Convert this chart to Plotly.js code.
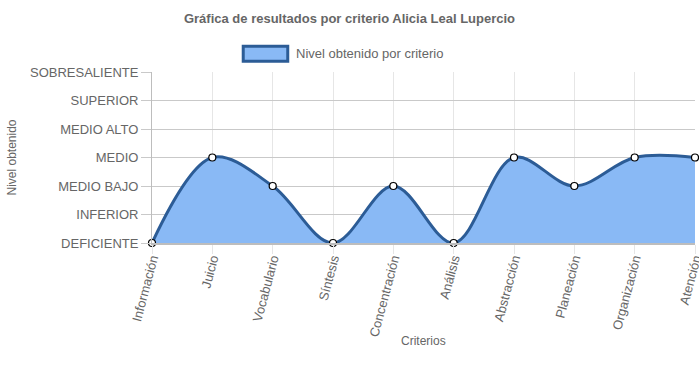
<!DOCTYPE html>
<html>
<head>
<meta charset="utf-8">
<script src="https://cdn.plot.ly/plotly-3.0.1.min.js"></script>
<style>html,body{margin:0;padding:0;background:#fff;}#chart{width:699px;height:382px;}</style>
</head>
<body>
<div id="chart"></div>
<script>
const criterios = ["Información","Juicio","Vocabulario","Síntesis","Concentración","Análisis","Abstracción","Planeación","Organización","Atención"];
const niveles = [0,3,2,0,2,0,3,2,3,3];
const nivelLabels = ["DEFICIENTE","INFERIOR","MEDIO BAJO","MEDIO","MEDIO ALTO","SUPERIOR","SOBRESALIENTE"];
const serieNombre = "Nivel obtenido por criterio";
const xTitulo = "Criterios";

const font = "Liberation Sans, Arial, sans-serif";
const trace = {
  x: criterios,
  y: niveles,
  type: "scatter",
  mode: "lines+markers",
  name: serieNombre,
  fill: "tozeroy",
  fillcolor: "rgb(137,185,245)",
  line: {shape: "spline", smoothing: 1, color: "rgb(44,92,150)", width: 3},
  marker: {size: 7, color: "#fff", line: {color: "#000", width: 1.2}},
  cliponaxis: false,
  showlegend: false
};
const layout = {
  width: 699, height: 382,
  margin: {l: 152, r: 4, t: 72, b: 139},
  paper_bgcolor: "#fff", plot_bgcolor: "#fff",
  font: {family: font, color: "#666", size: 12},
  title: {text: "<b>Gráfica de resultados por criterio Alicia Leal Lupercio</b>", x: 0.5, xref: "container", y: 0.953, yanchor: "middle", font: {size: 13, color: "#666", family: font}},
  xaxis: {
    type: "category", range: [0, criterios.length - 1],
    tickangle: -75, tickfont: {size: 13, color: "#666"},
    showgrid: true, gridcolor: "#e6e6e6", gridwidth: 1,
    ticks: "outside", ticklen: 9, tickcolor: "#e6e6e6",
    ticklabelstandoff: -8,
    showline: true, linecolor: "#bdbdbd", linewidth: 2,
    zeroline: false
  },
  yaxis: {
    range: [0, 6], tickvals: nivelLabels.map((_, i) => i), ticktext: nivelLabels,
    tickfont: {size: 13, color: "#666"},
    showgrid: true, gridcolor: "#c9c9c9", gridwidth: 1,
    ticks: "outside", ticklen: 10, tickcolor: "#c9c9c9",
    showline: true, linecolor: "#bdbdbd", linewidth: 1,
    zeroline: false,
    title: {text: "Nivel obtenido", font: {size: 12, color: "#666"}, standoff: 10}
  },
  shapes: [
    {type: "rect", xref: "paper", yref: "paper", x0: 0.168, x1: 0.250, y0: 1.063, y1: 1.150,
     fillcolor: "rgb(137,185,245)", line: {color: "rgb(44,92,150)", width: 3}}
  ],
  annotations: [
    {text: serieNombre, xref: "paper", yref: "paper", x: 0.261, y: 1.106, xanchor: "left", yanchor: "middle",
     showarrow: false, font: {size: 13, color: "#666"}},
    {text: xTitulo, xref: "paper", yref: "paper", x: 0.5, y: -0.573, xanchor: "center", yanchor: "middle",
     showarrow: false, font: {size: 12, color: "#666"}}
  ]
};
Plotly.newPlot("chart", [trace], layout, {displayModeBar: false, staticPlot: true});
</script>
</body>
</html>
